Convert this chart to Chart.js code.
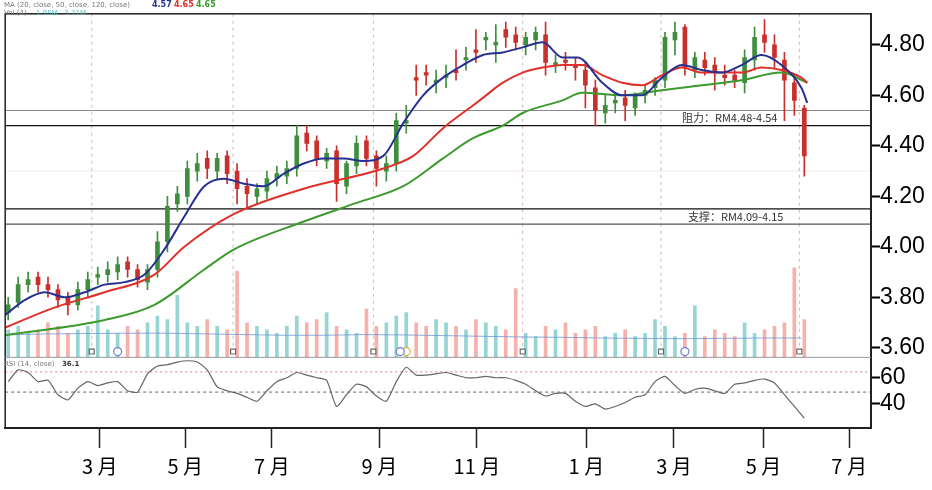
<!DOCTYPE html>
<html><head><meta charset="utf-8">
<script src="https://cdn.jsdelivr.net/npm/chart.js@4"></script>
<style>html,body{margin:0;padding:0;background:#fff}#w{width:932px;height:490px}</style>
</head><body><div id="w"><canvas id="c"></canvas></div>
<script>
const opens=[3.74,3.78,3.85,3.88,3.85,3.83,3.80,3.77,3.83,3.88,3.89,3.90,3.94,3.91,3.86,3.91,4.02,4.17,4.20,4.30,4.35,4.30,4.36,4.30,4.24,4.20,4.22,4.27,4.28,4.31,4.45,4.42,4.34,4.38,4.24,4.32,4.42,4.36,4.30,4.33,4.49,4.67,4.69,4.65,4.67,4.70,4.74,4.78,4.82,4.80,4.86,4.84,4.80,4.82,4.84,4.72,4.74,4.72,4.70,4.63,4.53,4.57,4.59,4.55,4.60,4.63,4.66,4.82,4.87,4.70,4.74,4.72,4.68,4.68,4.65,4.74,4.84,4.80,4.74,4.65,4.55];
const closes=[3.77,3.85,3.87,3.85,3.83,3.79,3.77,3.83,3.87,3.89,3.91,3.93,3.91,3.87,3.91,4.02,4.16,4.21,4.31,4.33,4.31,4.35,4.29,4.23,4.21,4.23,4.27,4.29,4.31,4.44,4.41,4.35,4.37,4.25,4.33,4.41,4.35,4.31,4.33,4.50,4.50,4.66,4.68,4.66,4.68,4.69,4.75,4.77,4.83,4.81,4.83,4.81,4.83,4.85,4.73,4.73,4.73,4.71,4.64,4.54,4.56,4.58,4.56,4.60,4.62,4.66,4.83,4.85,4.71,4.75,4.71,4.69,4.67,4.66,4.75,4.83,4.81,4.75,4.66,4.58,4.36];
const highs=[3.80,3.88,3.90,3.90,3.88,3.85,3.82,3.86,3.90,3.92,3.94,3.96,3.96,3.93,3.93,4.06,4.20,4.24,4.34,4.37,4.38,4.37,4.38,4.33,4.27,4.25,4.30,4.32,4.34,4.48,4.48,4.44,4.39,4.40,4.34,4.44,4.44,4.38,4.36,4.53,4.56,4.72,4.72,4.70,4.72,4.78,4.79,4.86,4.85,4.88,4.89,4.87,4.85,4.87,4.89,4.76,4.77,4.75,4.73,4.66,4.60,4.61,4.62,4.61,4.64,4.67,4.85,4.89,4.88,4.77,4.77,4.75,4.72,4.70,4.78,4.87,4.90,4.84,4.77,4.68,4.56];
const lows=[3.71,3.76,3.82,3.82,3.80,3.76,3.73,3.75,3.80,3.85,3.86,3.87,3.88,3.84,3.83,3.88,3.98,4.14,4.17,4.26,4.27,4.27,4.25,4.17,4.15,4.17,4.19,4.24,4.25,4.28,4.38,4.32,4.31,4.18,4.21,4.29,4.32,4.24,4.26,4.30,4.45,4.60,4.64,4.61,4.63,4.66,4.70,4.73,4.78,4.73,4.79,4.78,4.76,4.78,4.68,4.69,4.70,4.66,4.55,4.48,4.49,4.53,4.50,4.52,4.57,4.60,4.63,4.76,4.68,4.67,4.68,4.62,4.64,4.63,4.61,4.70,4.77,4.71,4.50,4.52,4.28];
const volumes=[8,9,7,8,10,9,7,8,9,15,8,7,9,8,10,12,11,18,10,9,11,9,8,25,10,9,8,7,9,12,10,11,13,9,8,7,14,9,10,12,13,10,9,11,10,9,8,11,10,9,8,20,7,6,9,8,10,7,8,9,6,7,8,6,7,11,9,6,7,15,6,8,7,6,10,7,8,9,10,26,11];
const rsi=[57,66,64,57,58,47,43,52,57,54,56,57,50,49,63,69,70,72,73,72,66,53,50,48,45,42,50,57,60,64,62,60,58,38,47,55,53,46,42,57,68,62,62,63,64,62,60,60,61,60,60,58,55,50,46,48,48,42,38,40,36,38,41,45,47,57,61,54,48,51,52,50,48,55,56,58,59,56,47,38,29];
const volMA=[6.5,6.8,6.9,7,7,6.8,6.6,6.4,6.4,6.6,6.5,6.3,6.1,5.9,5.8,5.6,5.5,5.4,5.5,5.6,5.6];
const blueX=[0,2,4,6,8,10,12,14,16,18,20,22,24,26,28,30,32,34,36,38,40,42,44,46,48,50,52,54,56,57.5,60,62,64,66,68,70,72,74,76,78,80,80.6];
const blueMA=[3.73,3.79,3.82,3.80,3.82,3.85,3.86,3.89,3.99,4.12,4.24,4.27,4.25,4.24,4.29,4.33,4.35,4.35,4.34,4.36,4.49,4.60,4.67,4.72,4.76,4.77,4.79,4.81,4.75,4.75,4.65,4.60,4.60,4.67,4.72,4.70,4.69,4.72,4.76,4.72,4.63,4.57];
const redX=[0,5,10,15,18,23,30,38,41,44,47,48,50,52,54,56,58,60,62,64,66,68,70,72,74,76,78,80,80.6];
const redMA=[3.68,3.76,3.82,3.89,4.00,4.13,4.23,4.31,4.36,4.47,4.56,4.59,4.65,4.69,4.71,4.72,4.72,4.68,4.65,4.64,4.68,4.71,4.69,4.69,4.69,4.71,4.70,4.67,4.65];
const greenX=[0,10,15,20,23,30,35,40,44,47,50,52,56,58,62,66,70,74,78,80.6];
const greenMA=[3.65,3.71,3.77,3.91,3.99,4.10,4.17,4.24,4.35,4.43,4.48,4.53,4.58,4.61,4.60,4.62,4.64,4.66,4.69,4.65];
const monthPos=[9.5,18.1,26.8,37.6,47.4,58.4,67.2,76.2,84.8];
const monthLabels=['3 月','5 月','7 月','9 月','11 月','1 月','3 月','5 月','7 月'];
const priceTicks=[3.6,3.7,3.8,3.9,4.0,4.1,4.2,4.3,4.4,4.5,4.6,4.7,4.8];
const rsiTicks=[40,60];
const eventX=[8.7,22.9,37.0,52.0,65.9,79.8];
const eventIcons=[8.7,22.9,37.0,52.0,65.9,79.8];
const circleIcons=[11.3,39.7,68.3];
const levels=[{v:4.54,c:'#8a8a8a'},{v:4.48,c:'#111'},{v:4.15,c:'#111'},{v:4.09,c:'#555'}];
const zones=[{t:'阻力：RM4.48-4.54',x:72.8,y:4.51},{t:'支撑：RM4.09-4.15',x:73.4,y:4.118}];

const xs=closes.map((_,i)=>i+0.3);
const up=i=>closes[i]>=opens[i];
const green='#3e8e3e', red='#c9302c';
const ds=[];
ds.push({type:'bar',data:xs.map((x,i)=>({x,y:[0,volumes[i]]})),yAxisID:'yV',grouped:false,barThickness:3,
  backgroundColor:xs.map((_,i)=>up(i)?'rgba(95,190,190,0.65)':'rgba(240,135,125,0.65)'),order:20});
ds.push({type:'line',data:volMA.map((v,i)=>({x:i*4,y:v})),yAxisID:'yV',borderColor:'rgba(110,150,210,0.8)',borderWidth:1,pointRadius:0,order:19});
levels.forEach(l=>ds.push({type:'line',data:[{x:0,y:l.v},{x:87,y:l.v}],yAxisID:'y',borderColor:l.c,borderWidth:1.2,pointRadius:0,order:15}));
ds.push({type:'bar',data:xs.map((x,i)=>({x,y:[lows[i],highs[i]]})),yAxisID:'y',grouped:false,barThickness:1,
  backgroundColor:xs.map((_,i)=>up(i)?green:red),order:8});
ds.push({type:'bar',data:xs.map((x,i)=>({x,y:[opens[i],closes[i]]})),yAxisID:'y',grouped:false,barThickness:4,minBarLength:1,
  backgroundColor:xs.map((_,i)=>up(i)?green:red),order:7});
[[greenX,greenMA,'#3c9a2e'],[redX,redMA,'#e0302a'],[blueX,blueMA,'#27318f']].forEach(([X,V,c],k)=>
  ds.push({type:'line',data:X.map((x,i)=>({x,y:V[i]})),yAxisID:'y',borderColor:c,borderWidth:2,pointRadius:0,cubicInterpolationMode:'monotone',order:3-k}));
ds.push({type:'scatter',data:eventIcons.map(x=>({x,y:3.585})),yAxisID:'y',pointStyle:'rect',pointRadius:3.5,backgroundColor:'#fff',borderColor:'#666',borderWidth:1.2,order:0});
ds.push({type:'scatter',data:circleIcons.map(x=>({x,y:3.585})),yAxisID:'y',pointStyle:'circle',pointRadius:4,backgroundColor:'#fff',borderColor:'#6a7fd0',borderWidth:1.2,order:0});
ds.push({type:'scatter',data:[{x:40.3,y:3.585}],yAxisID:'y',pointStyle:'circle',pointRadius:4,backgroundColor:'#fff',borderColor:'#e0b030',borderWidth:1.2,order:0});
ds.push({type:'line',data:[{x:0,y:64.5},{x:87,y:64.5}],yAxisID:'yR',borderColor:'#c98a8a',borderWidth:1,borderDash:[2,3],pointRadius:0,order:12});
ds.push({type:'line',data:[{x:0,y:49},{x:87,y:49}],yAxisID:'yR',borderColor:'#666',borderWidth:1,borderDash:[3,3],pointRadius:0,order:12});
ds.push({type:'line',data:xs.map((x,i)=>({x,y:rsi[i]})),yAxisID:'yR',borderColor:'#666',borderWidth:1.2,pointRadius:0,tension:0.2,order:4});

const deco={id:'deco',
 beforeDatasetsDraw(ch){const c=ch.ctx,x=ch.scales.x,y=ch.scales.y;
  c.save();c.strokeStyle='rgba(200,150,150,0.7)';c.lineWidth=1;c.setLineDash([3,4]);
  eventX.forEach(v=>{const p=x.getPixelForValue(v);c.beginPath();c.moveTo(p,y.top);c.lineTo(p,y.bottom);c.stroke();});
  c.setLineDash([]);c.strokeStyle='rgba(0,0,0,0.08)';const p3=y.getPixelForValue(4.3);c.beginPath();c.moveTo(x.left,p3);c.lineTo(x.right,p3);c.stroke();
  c.restore();},
 afterDatasetsDraw(ch){const c=ch.ctx,x=ch.scales.x,y=ch.scales.y,a=ch.chartArea;
  c.save();c.fillStyle='#333';c.font='11px "Noto Sans CJK SC"';c.textAlign='center';c.textBaseline='middle';
  zones.forEach(z=>c.fillText(z.t,x.getPixelForValue(z.x),y.getPixelForValue(z.y)));
  c.strokeStyle='#222';c.lineWidth=1.5;c.strokeRect(a.left,a.top,a.right-a.left,a.bottom-a.top);
  c.strokeStyle='#999';c.lineWidth=1;c.beginPath();c.moveTo(a.left,y.bottom);c.lineTo(a.right,y.bottom);c.stroke();
  c.textAlign='left';c.font='7px "DejaVu Sans"';c.fillStyle='#777';
  c.fillText('MA (20, close, 50, close, 120, close)',4,5);
  c.font='bold 8px "DejaVu Sans"';c.fillStyle='#27318f';c.fillText('4.57',152,5);c.fillStyle='#e0302a';c.fillText('4.65',174,5);c.fillStyle='#3c9a2e';c.fillText('4.65',196,5);
  c.font='7px "DejaVu Sans"';c.fillStyle='#777';c.fillText('Vol (4)',4,13);c.fillStyle='#5bbcbc';c.fillText('1.95M   3.71M',36,13);
  c.fillStyle='#777';c.fillText('RSI (14, close)',4,y.bottom+7);c.fillStyle='#333';c.font='bold 7px "DejaVu Sans"';c.fillText('36.1',62,y.bottom+7);
  c.restore();}};

const tickFont={family:'"Liberation Sans", Arial',size:23};
new Chart(document.getElementById('c'),{data:{datasets:ds},plugins:[deco],
 options:{responsive:true,maintainAspectRatio:false,animation:false,
  layout:{padding:{left:-4,top:-13,right:0,bottom:0}},
  plugins:{legend:{display:false},tooltip:{enabled:false}},
  scales:{
   x:{type:'linear',min:0,max:87,offset:false,
     afterBuildTicks:s=>{s.ticks=monthPos.map(v=>({value:v}));},
     afterFit:s=>{s.height=62;},
     ticks:{callback:(v,i)=>monthLabels[i],color:'#000',font:{family:'"Noto Sans CJK SC"',size:20},padding:6,maxRotation:0,autoSkip:false},
     grid:{drawOnChartArea:false,drawTicks:true,tickLength:20,tickColor:'#222',tickWidth:1.5,offset:false},border:{color:'#222',width:2}},
   y:{position:'right',stack:'s',stackWeight:355,min:3.562,max:4.923,
     afterBuildTicks:s=>{s.ticks=priceTicks.map(v=>({value:v}));},
     afterFit:s=>{s.width=61;},
     ticks:{callback:v=>v.toFixed(2),color:'#000',font:tickFont,padding:0},
     grid:{drawOnChartArea:false,tickLength:9,tickColor:'#000',tickWidth:2},border:{color:'#222',width:2}},
   yR:{position:'right',stack:'s',stackWeight:73,min:21.5,max:75.6,
     afterBuildTicks:s=>{s.ticks=rsiTicks.map(v=>({value:v}));},
     afterFit:s=>{s.width=61;},
     ticks:{callback:v=>String(v),color:'#000',font:tickFont,padding:0},
     grid:{drawOnChartArea:false,tickLength:9,tickColor:'#000',tickWidth:2},border:{color:'#222',width:2}},
   yV:{display:false,min:-20.6,max:100}
  }}});
</script></body></html>
